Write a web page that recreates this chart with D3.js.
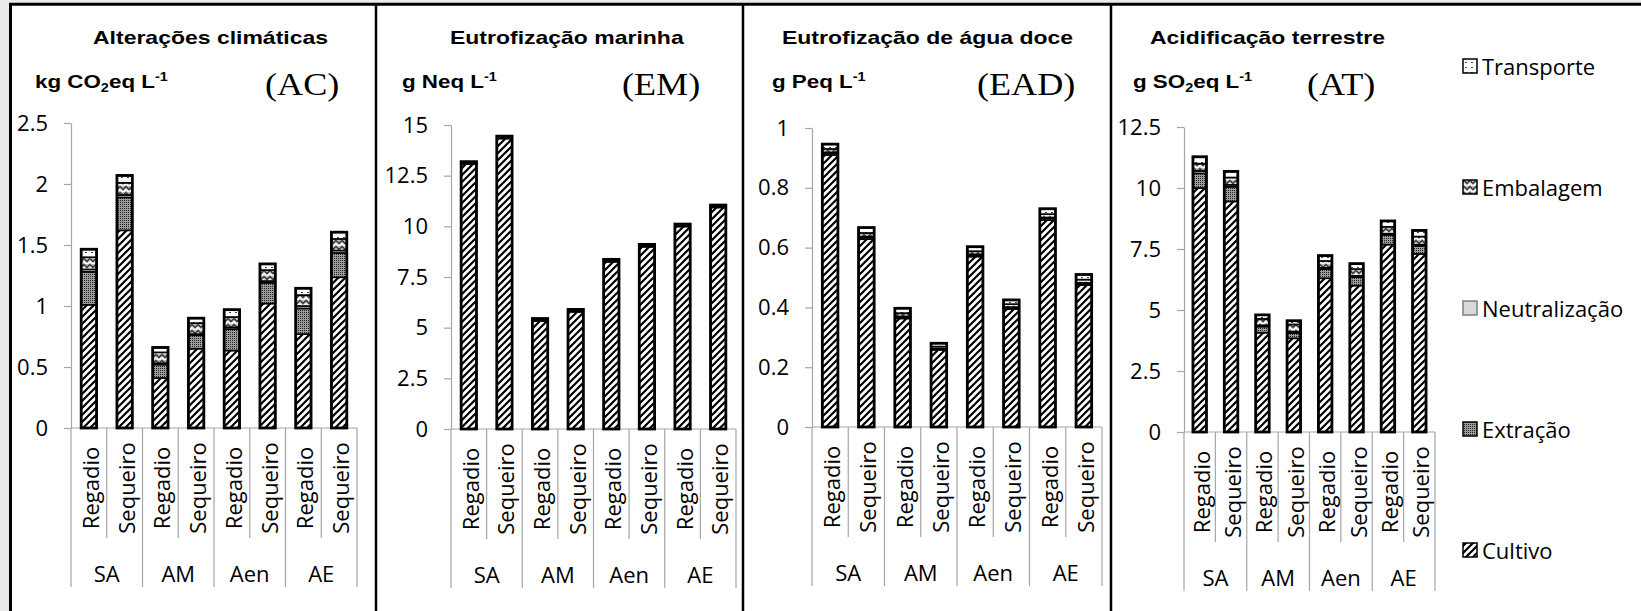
<!DOCTYPE html>
<html>
<head>
<meta charset="utf-8">
<script src="https://cdn.jsdelivr.net/npm/d3@7"></script>
<style>
body { margin: 0; background: #fff; }
svg { display: block; }
</style>
</head>
<body>
<svg id="chart"></svg>
<script>
var groups = ["SA", "AM", "Aen", "AE"];
var systems = ["Regadio", "Sequeiro"];
var stages = ["Cultivo", "Extração", "Neutralização", "Embalagem", "Transporte"];

// Alteracoes climaticas (kg CO2eq / L)
var ac_cultivo = [1.01, 1.62, 0.41, 0.65, 0.635, 1.02, 0.77, 1.235];
var ac_extracao = [0.27, 0.27, 0.11, 0.11, 0.175, 0.17, 0.21, 0.2];
var ac_neutralizacao = [0.02, 0.02, 0.01, 0.01, 0.015, 0.015, 0.02, 0.02];
var ac_embalagem = [0.1, 0.1, 0.09, 0.09, 0.085, 0.09, 0.09, 0.095];
var ac_transporte = [0.065, 0.06, 0.04, 0.04, 0.06, 0.05, 0.055, 0.055];
var ac_ticks = [0, 0.5, 1, 1.5, 2, 2.5];

// Eutrofizacao marinha (g Neq / L)
var em_cultivo = [13.07, 14.33, 5.33, 5.78, 8.25, 8.99, 9.99, 10.93];
var em_extracao = [0.04, 0.04, 0.04, 0.04, 0.04, 0.04, 0.04, 0.04];
var em_neutralizacao = [0.01, 0.01, 0.01, 0.01, 0.01, 0.01, 0.01, 0.01];
var em_embalagem = [0.04, 0.04, 0.04, 0.04, 0.04, 0.04, 0.04, 0.04];
var em_transporte = [0.03, 0.03, 0.03, 0.03, 0.03, 0.03, 0.03, 0.03];
var em_ticks = [0, 2.5, 5, 7.5, 10, 12.5, 15];

// Eutrofizacao de agua doce (g Peq / L)
var ead_cultivo = [0.91, 0.628, 0.363, 0.258, 0.57, 0.394, 0.692, 0.475];
var ead_extracao = [0.006, 0.006, 0.005, 0.003, 0.005, 0.005, 0.006, 0.005];
var ead_neutralizacao = [0.002, 0.002, 0.002, 0.001, 0.002, 0.002, 0.002, 0.002];
var ead_embalagem = [0.012, 0.013, 0.011, 0.007, 0.011, 0.01, 0.012, 0.011];
var ead_transporte = [0.016, 0.018, 0.016, 0.011, 0.015, 0.014, 0.018, 0.017];
var ead_ticks = [0, 0.2, 0.4, 0.6, 0.8, 1];

// Acidificacao terrestre (g SO2eq / L)
var at_cultivo = [10.0, 9.45, 4.07, 3.84, 6.3, 6.0, 7.68, 7.3];
var at_extracao = [0.6, 0.6, 0.25, 0.22, 0.38, 0.35, 0.4, 0.33];
var at_neutralizacao = [0.1, 0.08, 0.05, 0.05, 0.05, 0.05, 0.05, 0.05];
var at_embalagem = [0.3, 0.3, 0.27, 0.3, 0.28, 0.28, 0.28, 0.33];
var at_transporte = [0.28, 0.25, 0.16, 0.15, 0.22, 0.22, 0.24, 0.25];
var at_ticks = [0, 2.5, 5, 7.5, 10, 12.5];

var panels = [
    { title: "Alterações climáticas", unit: [["kg CO", 0], ["2", 1], ["eq L", 0], ["-1", 2]], tag: "(AC)",
      series: [ac_cultivo, ac_extracao, ac_neutralizacao, ac_embalagem, ac_transporte], ticks: ac_ticks,
      x0: 71, x1: 357, y0: 428, yTop: 123, titleX: 93, unitX: 35, tagX: 265 },
    { title: "Eutrofização marinha", unit: [["g Neq L", 0], ["-1", 2]], tag: "(EM)",
      series: [em_cultivo, em_extracao, em_neutralizacao, em_embalagem, em_transporte], ticks: em_ticks,
      x0: 451, x1: 736, y0: 429, yTop: 125, titleX: 450, unitX: 402, tagX: 622 },
    { title: "Eutrofização de água doce", unit: [["g Peq L", 0], ["-1", 2]], tag: "(EAD)",
      series: [ead_cultivo, ead_extracao, ead_neutralizacao, ead_embalagem, ead_transporte], ticks: ead_ticks,
      x0: 812, x1: 1102, y0: 427, yTop: 128, titleX: 782, unitX: 772, tagX: 977 },
    { title: "Acidificação terrestre", unit: [["g SO", 0], ["2", 1], ["eq L", 0], ["-1", 2]], tag: "(AT)",
      series: [at_cultivo, at_extracao, at_neutralizacao, at_embalagem, at_transporte], ticks: at_ticks,
      x0: 1184, x1: 1435, y0: 432, yTop: 127, titleX: 1150, unitX: 1133, tagX: 1307 }
];

var W = 1641, H = 611;
var axisColor = "#a6a6a6";
var patternIds = ["p-cult", "p-extr", "p-neut", "p-emb", "p-transp"];

var categories = [];
groups.forEach(function (g) {
    systems.forEach(function (s) {
        categories.push({ group: g, system: s });
    });
});

var svg = d3.select("#chart").attr("width", W).attr("height", H);
var defs = svg.append("defs");

// patterns (excel-like fills)
var pc = defs.append("pattern").attr("id", "p-cult").attr("patternUnits", "userSpaceOnUse")
    .attr("width", 7).attr("height", 7);
pc.append("rect").attr("width", 7).attr("height", 7).attr("fill", "#fff");
pc.append("path").attr("d", "M-1,1 L1,-1 M0,7 L7,0 M6,8 L8,6")
    .attr("stroke", "#000").attr("stroke-width", 2.2);

var pe = defs.append("pattern").attr("id", "p-extr").attr("patternUnits", "userSpaceOnUse")
    .attr("width", 2).attr("height", 2);
pe.append("rect").attr("width", 2).attr("height", 2).attr("fill", "#9c9c9c");
pe.append("rect").attr("width", 1).attr("height", 1).attr("fill", "#222");

var pn = defs.append("pattern").attr("id", "p-neut").attr("patternUnits", "userSpaceOnUse")
    .attr("width", 4).attr("height", 4);
pn.append("rect").attr("width", 4).attr("height", 4).attr("fill", "#d9d9d9");

var pb = defs.append("pattern").attr("id", "p-emb").attr("patternUnits", "userSpaceOnUse")
    .attr("width", 6).attr("height", 6);
pb.append("rect").attr("width", 6).attr("height", 6).attr("fill", "#b8b8b8");
pb.append("path").attr("d", "M0,0.5 L3,3.5 L6,0.5").attr("fill", "none").attr("stroke", "#222").attr("stroke-width", 1.1);
pb.append("path").attr("d", "M0,3.5 L3,6.5 L6,3.5").attr("fill", "none").attr("stroke", "#fff").attr("stroke-width", 1.4);

var pt = defs.append("pattern").attr("id", "p-transp").attr("patternUnits", "userSpaceOnUse")
    .attr("width", 6).attr("height", 5);
pt.append("rect").attr("width", 6).attr("height", 5).attr("fill", "#fff");
pt.append("rect").attr("x", 1).attr("y", 2).attr("width", 2).attr("height", 1).attr("fill", "#444");

// background and frame
svg.append("rect").attr("width", W).attr("height", H).attr("fill", "#ebebeb");
svg.append("rect").attr("x", 10).attr("y", 4).attr("width", W - 10).attr("height", H - 4).attr("fill", "#fff");

svg.append("line").attr("x1", 9).attr("x2", W).attr("y1", 4.2).attr("y2", 4.2)
    .attr("stroke", "#000").attr("stroke-width", 3);
svg.append("line").attr("x1", 10.5).attr("x2", 10.5).attr("y1", 3).attr("y2", H)
    .attr("stroke", "#000").attr("stroke-width", 3);
[376, 743, 1111].forEach(function (bx) {
    svg.append("line").attr("x1", bx).attr("x2", bx).attr("y1", 3).attr("y2", H)
        .attr("stroke", "#000").attr("stroke-width", 2.5);
});

function drawPanel(p) {
    var g = svg.append("g");

    var rows = categories.map(function (c, i) {
        var r = {};
        stages.forEach(function (s, k) { r[s] = p.series[k][i]; });
        return r;
    });
    var series = d3.stack().keys(stages)(rows);

    var x = d3.scaleBand().domain(d3.range(rows.length)).range([p.x0, p.x1]);
    var y = d3.scaleLinear().domain([0, d3.max(p.ticks)]).range([p.y0, p.yTop]);
    var bw = x.bandwidth() * 0.43;

    // title, unit and tag
    g.append("text").attr("transform", "translate(" + p.titleX + ",44) scale(1.21,1)")
        .attr("font-family", "Liberation Sans").attr("font-weight", "bold").attr("font-size", 19)
        .attr("fill", "#000").text(p.title);

    var ut = g.append("text").attr("transform", "translate(" + p.unitX + ",88) scale(1.21,1)")
        .attr("font-family", "Liberation Sans").attr("font-weight", "bold").attr("font-size", 18.5)
        .attr("fill", "#000");
    var shift = 0;
    p.unit.forEach(function (u) {
        var dy = 0, fs = 18.5;
        if (u[1] === 1) { dy = 4 - shift; shift = 4; fs = 12; }
        else if (u[1] === 2) { dy = -7 - shift; shift = -7; fs = 12; }
        else { dy = -shift; shift = 0; }
        ut.append("tspan").attr("dy", dy).attr("font-size", fs).text(u[0]);
    });

    g.append("text").attr("transform", "translate(" + p.tagX + ",95) scale(1.13,1)")
        .attr("font-family", "Liberation Serif").attr("font-size", 32).attr("fill", "#000").text(p.tag);

    // category axis: baseline and separators
    g.append("line").attr("x1", p.x0).attr("x2", p.x1).attr("y1", p.y0).attr("y2", p.y0)
        .attr("stroke", axisColor).attr("stroke-width", 1.2);
    d3.range(rows.length + 1).forEach(function (i) {
        var sx = p.x0 + i * x.step();
        var bottom = (i % 2 === 0) ? p.y0 + 159 : p.y0 + 110;
        g.append("line").attr("x1", sx).attr("x2", sx).attr("y1", p.y0).attr("y2", bottom)
            .attr("stroke", axisColor).attr("stroke-width", 1.2);
    });

    g.selectAll(".cat").data(categories).enter().append("text")
        .attr("class", "cat")
        .attr("transform", function (d, i) {
            return "translate(" + (x(i) + x.bandwidth() / 2 + 1) + "," + (p.y0 + 60) + ") rotate(-90)";
        })
        .attr("text-anchor", "middle").attr("dominant-baseline", "central")
        .attr("font-family", "Open Sans").attr("font-size", 22).attr("fill", "#000")
        .text(function (d) { return d.system; });

    g.selectAll(".grp").data(groups).enter().append("text")
        .attr("class", "grp")
        .attr("x", function (d, j) { return x(j * 2) + x.step(); })
        .attr("y", p.y0 + 145)
        .attr("text-anchor", "middle").attr("dominant-baseline", "central")
        .attr("font-family", "Open Sans").attr("font-size", 22).attr("fill", "#000")
        .text(function (d) { return d; });

    // value axis
    var yAxis = d3.axisLeft(y).tickValues(p.ticks).tickSize(7).tickSizeOuter(0)
        .tickPadding(16).tickFormat(d3.format("~g"));
    var ga = g.append("g").attr("transform", "translate(" + p.x0 + ",0)").call(yAxis);
    ga.select(".domain").attr("stroke", axisColor).attr("stroke-width", 1.2);
    ga.selectAll(".tick line").attr("stroke", axisColor).attr("stroke-width", 1.2);
    ga.selectAll(".tick text").attr("font-family", "Open Sans").attr("font-size", 22).attr("fill", "#000");

    // stacked bars
    g.selectAll("g.layer").data(series).enter().append("g")
        .attr("class", "layer")
        .attr("fill", function (d, k) { return "url(#" + patternIds[k] + ")"; })
        .selectAll("rect").data(function (d) { return d; }).enter().append("rect")
        .attr("x", function (d, i) { return x(i) + (x.bandwidth() - bw) / 2; })
        .attr("y", function (d) { return y(d[1]); })
        .attr("width", bw)
        .attr("height", function (d) { return y(d[0]) - y(d[1]); })
        .attr("stroke", "#000").attr("stroke-width", 1.6);

    var top = series[series.length - 1];
    g.selectAll("rect.outline").data(top).enter().append("rect")
        .attr("class", "outline")
        .attr("x", function (d, i) { return x(i) + (x.bandwidth() - bw) / 2; })
        .attr("y", function (d) { return y(d[1]); })
        .attr("width", bw)
        .attr("height", function (d) { return y(0) - y(d[1]); })
        .attr("fill", "none").attr("stroke", "#000").attr("stroke-width", 2.8);
}

panels.forEach(drawPanel);

// legend (reverse stacking order)
var legendStages = stages.slice().reverse();
var legendFill = patternIds.slice().reverse();
var lg = svg.append("g");
legendStages.forEach(function (s, i) {
    var ly = 66 + i * 121;
    lg.append("rect").attr("x", 1463).attr("y", ly - 7).attr("width", 14).attr("height", 14)
        .attr("fill", "url(#" + legendFill[i] + ")")
        .attr("stroke", s === "Neutralização" ? "#808080" : "#000").attr("stroke-width", 1.5);
    lg.append("text").attr("x", 1482).attr("y", ly).attr("dominant-baseline", "central")
        .attr("font-family", "Open Sans").attr("font-size", 22).attr("fill", "#000").text(s);
});
</script>
</body>
</html>
